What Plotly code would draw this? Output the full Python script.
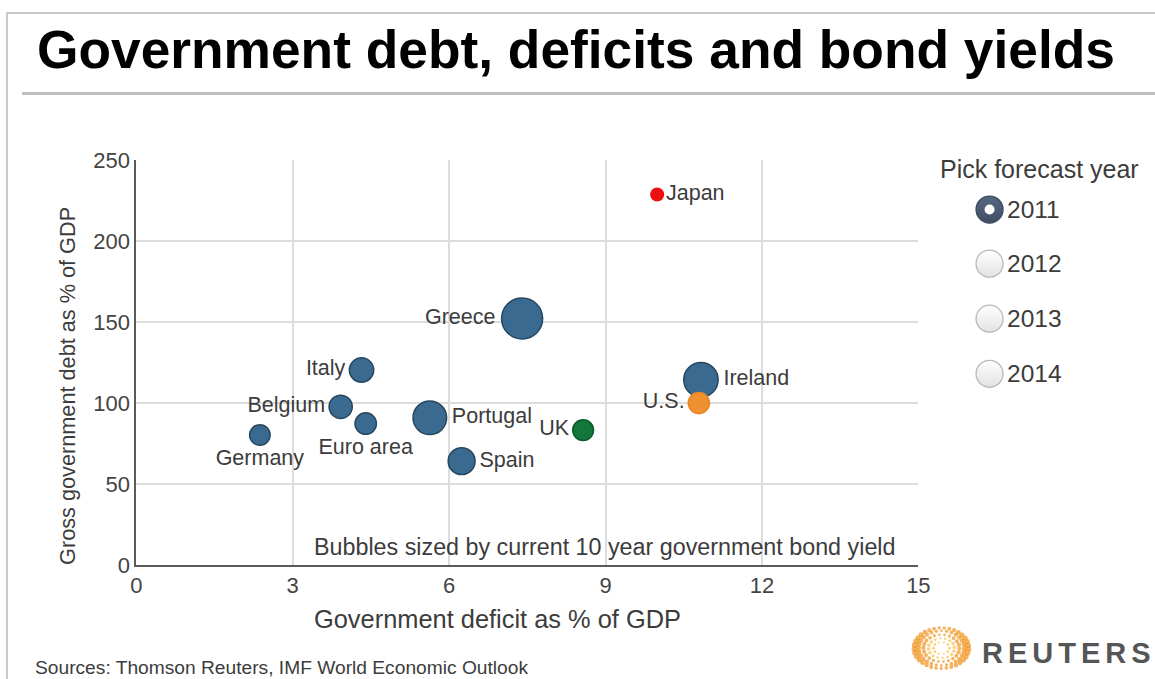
import numpy as np
import plotly.graph_objects as go

W, H = 1155, 679          # target picture size

# The photographed page is slightly scaled; layout coordinates below are given
# in picture pixels and converted through this measured mapping.
A_X, B_X = 0.982, -0.8
A_Y, B_Y = 0.963, 4.0
OFF = 8                   # default html body margin
FW, FH = 1170, 700        # figure size in page pixels
XR0, XR1 = A_X * OFF + B_X, A_X * (OFF + FW) + B_X
YR0, YR1 = A_Y * OFF + B_Y, A_Y * (OFF + FH) + B_Y

# ---------------- data ----------------
countries = ["Japan", "Greece", "Italy", "Belgium", "Euro area", "Germany",
             "Portugal", "Spain", "UK", "Ireland", "U.S."]
deficit = [9.99, 7.40, 4.32, 3.92, 4.40, 2.37, 5.63, 6.24, 8.57, 10.83, 10.79]
debt = [229.0, 152.4, 120.5, 97.8, 87.4, 80.4, 91.0, 64.2, 83.4, 114.5, 100.1]
bond_yield = [1.2, 12.8, 4.5, 4.1, 3.5, 3.2, 8.6, 5.5, 3.3, 9.0, 3.4]
groups = ["Japan", "Euro", "Euro", "Euro", "Euro", "Euro",
          "Euro", "Euro", "UK", "Euro", "US"]
label_pos = ["middle right", "middle left", "middle left", "middle left",
             "bottom center", "bottom center", "middle right", "middle right",
             "middle left", "middle right", "middle left"]

x_ticks = [0, 3, 6, 9, 12, 15]
y_ticks = [0, 50, 100, 150, 200, 250]
years = ["2011", "2012", "2013", "2014"]
selected_year = "2011"

group_colors = {"Euro": "#3b6a90", "UK": "#12773a", "US": "#f0912f", "Japan": "#ee1010"}
group_lines = {"Euro": "#27475f", "UK": "#0e5a2b", "US": "#e9862a", "Japan": "#ee1010"}

FONT = "Liberation Sans, Arial, sans-serif"
TXT = "#3c3c3c"

# plot area in picture pixels
PX_L, PX_R, PX_T, PX_B = 137, 917, 160, 564

fig = go.Figure()

fig.add_trace(go.Scatter(
    x=deficit, y=debt, mode="markers+text",
    text=countries, textposition=label_pos,
    textfont=dict(family=FONT, size=21.5, color=TXT),
    marker=dict(
        size=bond_yield, sizemode="area", sizeref=0.0152,
        color=[group_colors[g] for g in groups],
        line=dict(color=[group_lines[g] for g in groups], width=1.5),
        opacity=1,
    ),
    cliponaxis=False, hoverinfo="text", showlegend=False,
    xaxis="x", yaxis="y",
))

# ---------- picture-pixel overlay for decorations ----------
rb_x = 988
rb_y = [209, 263, 318, 373]
fig.add_trace(go.Scatter(
    x=[rb_x] * len(years), y=rb_y, mode="markers",
    marker=dict(size=27, symbol="circle",
                color=["#56677f" if y == selected_year else "#ffffff" for y in years],
                gradient=dict(type="vertical",
                              color=["#3f4e63" if y == selected_year else "#e2e2e2" for y in years]),
                line=dict(color=["#3c4a5e" if y == selected_year else "#b9b9b9" for y in years], width=1.3)),
    xaxis="x2", yaxis="y2", showlegend=False, hoverinfo="skip", cliponaxis=False,
))
sel_idx = years.index(selected_year)
fig.add_trace(go.Scatter(
    x=[rb_x], y=[rb_y[sel_idx]], mode="markers",
    marker=dict(size=10, color="#ffffff", line=dict(width=0)),
    xaxis="x2", yaxis="y2", showlegend=False, hoverinfo="skip", cliponaxis=False,
))

# Reuters logo: rings of dots
lx, ly = 940, 647
dxs, dys, dsz, dcol = [], [], [], []
for k, r in enumerate([8, 13, 18, 23, 27]):
    n = int(2 * np.pi * r / 5.0)
    th = np.linspace(0, 2 * np.pi, n, endpoint=False) + k * 0.3
    for t in th:
        dxs.append(lx + r * np.cos(t))
        dys.append(ly + 0.75 * r * np.sin(t))
        s = (1.8 + 0.14 * r) * (0.55 + 0.45 * abs(np.cos(t)))
        dsz.append(s)
        dcol.append("#f0931c" if r >= 18 else "#f7bd45")
fig.add_trace(go.Scatter(
    x=dxs, y=dys, mode="markers",
    marker=dict(size=dsz, color=dcol, line=dict(width=0)),
    xaxis="x2", yaxis="y2", showlegend=False, hoverinfo="skip", cliponaxis=False,
))

annotations = []


def ann(text, x, y, size, color=TXT, xanchor="center", yanchor="middle", textangle=0, family=FONT):
    annotations.append(dict(text=text, x=x, y=y, xref="x2", yref="y2", showarrow=False,
                            xanchor=xanchor, yanchor=yanchor, textangle=textangle,
                            font=dict(family=family, size=size, color=color)))


ann("<b>Government debt, deficits and bond yields</b>", 36, 49, 53.3, color="#000000", xanchor="left")
ann("Government deficit as % of GDP", 497, 618, 25.4)
ann("Gross government debt as % of GDP", 69, 385, 21.7, textangle=-90)
ann("Bubbles sized by current 10 year government bond yield", 604, 546, 23.3)
ann("Pick forecast year", 1038, 168, 25)
for yv, yy in zip(years, rb_y):
    ann(yv, 1003, yy, 24.5, xanchor="left")
ann("Sources: Thomson Reuters, IMF World Economic Outlook", 34, 666, 19.2, xanchor="left")
ann("<b><span style='letter-spacing:5px'>REUTERS</span></b>", 978, 652, 29, color="#555555", xanchor="left")

shapes = [
    dict(type="line", xref="x2", yref="y2", x0=XR0, x1=XR1, y0=max(8.5, YR0 + 1), y1=max(8.5, YR0 + 1),
         line=dict(color="#c9c9c9", width=2)),
    dict(type="line", xref="x2", yref="y2", x0=max(4.5, XR0 + 1), x1=max(4.5, XR0 + 1), y0=YR0, y1=YR1,
         line=dict(color="#c9c9c9", width=2)),
    dict(type="line", xref="x2", yref="y2", x0=23, x1=XR1, y0=93, y1=93,
         line=dict(color="#bdbdbd", width=3)),
]

fig.update_layout(
    width=FW, height=FH,
    margin=dict(l=0, r=0, t=0, b=0),
    paper_bgcolor="white", plot_bgcolor="rgba(0,0,0,0)",
    font=dict(family=FONT, color=TXT),
    xaxis=dict(domain=[(PX_L - XR0) / (XR1 - XR0), (PX_R - XR0) / (XR1 - XR0)],
               range=[0, 15], tickvals=x_ticks,
               showgrid=True, gridcolor="#dcdcdc", gridwidth=1.5,
               showline=True, linecolor="#5a5a5a", linewidth=2,
               zeroline=False, ticks="", ticklabelstandoff=0,
               tickfont=dict(family=FONT, size=22, color="#444444"),
               fixedrange=True),
    yaxis=dict(domain=[(YR1 - PX_B) / (YR1 - YR0), (YR1 - PX_T) / (YR1 - YR0)],
               range=[0, 250], tickvals=y_ticks,
               showgrid=True, gridcolor="#dcdcdc", gridwidth=1.5,
               showline=True, linecolor="#5a5a5a", linewidth=2,
               zeroline=False, ticks="", ticklabelstandoff=0,
               tickfont=dict(family=FONT, size=22, color="#444444"),
               fixedrange=True),
    xaxis2=dict(domain=[0, 1], range=[XR0, XR1], visible=False, anchor="y2", fixedrange=True),
    yaxis2=dict(domain=[0, 1], range=[YR1, YR0], visible=False, anchor="x2", fixedrange=True),
    annotations=annotations,
    shapes=shapes,
    showlegend=False,
)

fig.write_html("out.html")
